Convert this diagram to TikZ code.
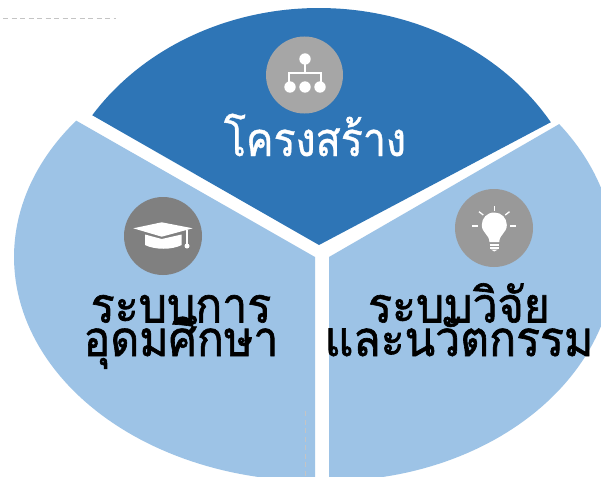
\documentclass[tikz,border=0pt]{standalone}
\usepackage{fontspec}
\newfontfamily\thaifont[Script=Thai,FakeStretch=0.91,FakeBold=1.3]{Loma}
\newfontfamily\thaihead[Script=Thai,FakeStretch=0.875,FakeBold=0.8]{Loma}
\newcommand\tightlines{\lineskiplimit=-100pt\relax}
\definecolor{darkblue}{HTML}{2E75B6}
\definecolor{lightblue}{HTML}{9DC3E6}
\definecolor{guide}{HTML}{C4C4C4}
\tikzset{
  wedgedark/.style={fill=darkblue,draw=none},
  wedgelight/.style={fill=lightblue,draw=none},
  iconline/.style={draw=white,line width=1.6pt},
  iconfill/.style={fill=white,draw=none},
  guideline/.style={draw=guide,line width=0.8pt,dash pattern=on 5pt off 3.5pt},
  labeltext/.style={font={\thaifont\fontsize{49}{33.5}\selectfont\tightlines},align=center,inner sep=0pt,text=black,anchor=base},
  headtext/.style={font={\thaihead\fontsize{47}{47}\selectfont},inner sep=0pt,text=white,anchor=base},
}
\begin{document}
\begin{tikzpicture}[x=1pt,y=-1pt]
\useasboundingbox (0,0) rectangle (601,476);
\clip (0,0) rectangle (601,476);
\fill[white] (0,0) rectangle (601,476);
% wedges
\fill[wedgedark] (319,245) -- plot[domain=213.2:328.8,samples=80] ({319+271*cos(\x)},{245+237*sin(\x)}) -- cycle;
\fill[wedgelight] (315,257) -- plot[domain=217.5:90,samples=80] ({315+301*cos(\x)},{257+224*sin(\x)}) -- cycle;
\fill[wedgelight] (329,257) -- plot[domain=-36.4:90,samples=80] ({329+286*cos(\x)},{257+224*sin(\x)}) -- cycle;
% guides
\draw[guideline] (3,18) -- (116,18);
\draw[guideline] (305,411) -- (305,476);
% icon discs
\fill[fill=black!35] (304.5,75) circle[radius=38.5];
\fill[fill=black!50] (163,236) circle[radius=39];
\fill[fill=black!40] (494,228) circle[radius=39];
% org chart icon
\fill[iconfill] (305,59) circle[radius=5.7];
\foreach \px in {290,305,320} {\fill[iconfill] (\px,87) circle[radius=5.7];}
\draw[iconline] (305,60) -- (305,73);
\draw[iconline] (289,85) -- (289,73) -- (321,73) -- (321,85);
% graduation cap icon
\fill[iconfill] (133.3,228.3) -- (161.7,222.3) -- (192.7,228.3) -- (161.7,236.7) -- cycle;
\fill[iconfill] (145,234.5) -- (161.7,239) -- (181.7,234.5) -- (181.7,245) .. controls (172,250) and (155,250) .. (145,245) -- cycle;
\draw[draw=white,line width=1.3pt] (187,230) -- (187,245);
\fill[iconfill] (187,246) circle[radius=2.5];
% bulb icon
\fill[iconfill] (489.5,242) .. controls (489,234) and (481.8,233) .. (481.8,225) .. controls (481.8,218) and (487,212.5) .. (494.3,212.5) .. controls (501.5,212.5) and (506.8,218) .. (506.8,225) .. controls (506.8,233) and (499.6,234) .. (499.2,242) -- cycle;
\draw[iconline,line width=1.4pt] (489.5,245) -- (499.2,245);
\draw[iconline,line width=1.4pt] (490,248) -- (498.7,248);
\fill[iconfill] (491,249.5) -- (497.7,249.5) -- (494.3,251.5) -- cycle;
\draw[iconline,line width=1.3pt] (494.3,206) -- (494.3,210.7);
\draw[iconline,line width=1.3pt] (479,211.7) -- (483.3,215);
\draw[iconline,line width=1.3pt] (509.5,211.7) -- (505.2,215);
\draw[iconline,line width=1.3pt] (472.3,226) -- (478.3,226);
\draw[iconline,line width=1.3pt] (510,226) -- (515.7,226);
% labels
\node[headtext] (structure) at (315,156) {โครงสร้าง};
\node[labeltext] (higher) at (181,356) {ระบบการ\\อุดมศึกษา};
\node[labeltext] (research) at (459,356) {ระบบวิจัย\\และนวัตกรรม};
\end{tikzpicture}
\end{document}
